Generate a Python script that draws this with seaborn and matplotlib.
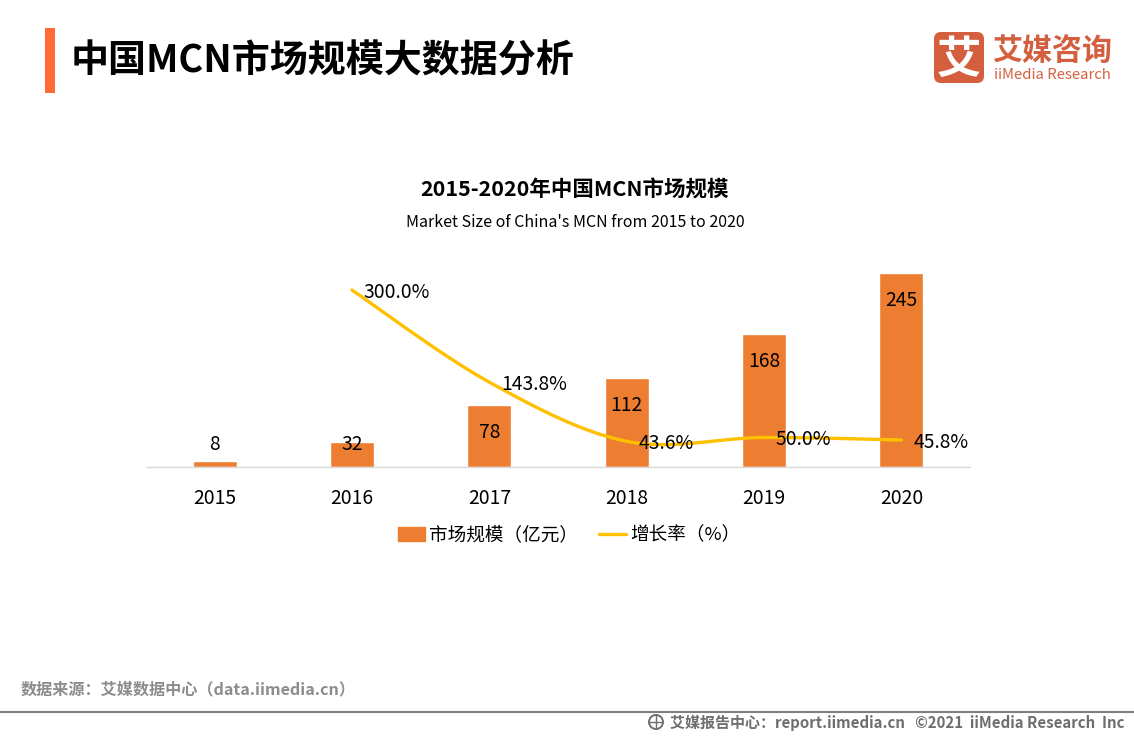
import numpy as np
import pandas as pd
import matplotlib
matplotlib.use('Agg')
import matplotlib.pyplot as plt
import seaborn as sns
from matplotlib.lines import Line2D
from matplotlib.patches import Circle, FancyBboxPatch, Patch, Rectangle

# chart data
years = ['2015', '2016', '2017', '2018', '2019', '2020']
market_size = [8, 32, 78, 112, 168, 245]
growth_years = [1, 2, 3, 4, 5]
growth_rate = [300.0, 143.8, 43.6, 50.0, 45.8]

BAR_COLOR = '#ED7D31'
LINE_COLOR = '#FFC000'
LOGO_COLOR = '#D45F3E'
GREY = '#7F7F7F'

W, H = 1134, 737


def smooth_curve(xs, ys, steps=30):
    """Same smoothing as the office chart line, drawn through the given points."""
    xs = np.asarray(xs, dtype=float)
    ys = np.asarray(ys, dtype=float)
    px = np.concatenate([[xs[0]], xs, [xs[-1]]])
    py = np.concatenate([[ys[0]], ys, [ys[-1]]])
    out_x, out_y = [], []
    for i in range(1, len(px) - 2):
        c1x, c1y = px[i] + (px[i + 1] - px[i - 1]) / 6, py[i] + (py[i + 1] - py[i - 1]) / 6
        c2x, c2y = px[i + 1] - (px[i + 2] - px[i]) / 6, py[i + 1] - (py[i + 2] - py[i]) / 6
        t = np.linspace(0, 1, steps)
        out_x.extend((1 - t) ** 3 * px[i] + 3 * (1 - t) ** 2 * t * c1x + 3 * (1 - t) * t ** 2 * c2x + t ** 3 * px[i + 1])
        out_y.extend((1 - t) ** 3 * py[i] + 3 * (1 - t) ** 2 * t * c1y + 3 * (1 - t) * t ** 2 * c2y + t ** 3 * py[i + 1])
    return np.array(out_x), np.array(out_y)


sns.set_theme(style='white')
plt.rcParams['font.family'] = ['Noto Sans CJK SC', 'DejaVu Sans']

fig = plt.figure(figsize=(W / 100, H / 100), dpi=100, facecolor='white')

# whole-figure layer in pixel coordinates for the page furniture
page = fig.add_axes([0, 0, 1, 1])
page.set_xlim(0, W)
page.set_ylim(H, 0)
page.axis('off')

page.add_patch(Rectangle((45, 28), 10, 65, color='#FF6B35', lw=0))
page.text(71, 61, '中国MCN市场规模大数据分析', fontsize=27.4, fontweight='bold', color='black', va='center')

page.text(574.5, 190, '2015-2020年中国MCN市场规模', fontsize=15.5, fontweight='bold', color='black', ha='center', va='center')
page.text(575, 222, "Market Size of China's MCN from 2015 to 2020", fontsize=11.5, color='black', ha='center', va='center')

# logo
page.add_patch(FancyBboxPatch((938, 36), 42, 43, boxstyle='round,pad=4,rounding_size=7', color=LOGO_COLOR, lw=0))
page.text(959, 60, '艾', fontsize=32, fontweight='bold', color='white', ha='center', va='center')
page.text(1052.5, 51, '艾媒咨询', fontsize=21.6, fontweight='bold', color=LOGO_COLOR, ha='center', va='center')
page.text(1052.5, 75, 'iiMedia Research', fontsize=10.7, fontweight='medium', color=LOGO_COLOR, ha='center', va='center')

# footer
page.text(21, 689, '数据来源：艾媒数据中心（data.iimedia.cn）', fontsize=11.6, fontweight='bold', color='#8C8C8C', va='center')
page.plot([0, W], [712, 712], color=GREY, lw=1.5, solid_capstyle='butt')
page.text(1124, 723, '艾媒报告中心：report.iimedia.cn   ©2021  iiMedia Research  Inc', fontsize=10.8,
          fontweight='bold', color='#6E6E6E', ha='right', va='center')
page.add_patch(Circle((656, 722), 7, fill=False, ec='#6E6E6E', lw=1.4))
page.plot([649, 663], [722, 722], color='#6E6E6E', lw=1)
page.plot([656, 656], [715, 729], color='#6E6E6E', lw=1)

# chart area, baseline at y=467
ax = fig.add_axes([146 / W, 1 - 467 / H, 824 / W, 197 / H])
ax.patch.set_alpha(0)
df = pd.DataFrame({'year': years, 'size': market_size})
sns.barplot(data=df, x='year', y='size', color=BAR_COLOR, saturation=1, width=0.32, ax=ax)
ax.set_xlim(-0.5, 5.5)
ax.set_ylim(0, 249)
ax.set_xlabel('')
ax.set_ylabel('')
ax.set_yticks([])
ax.tick_params(axis='x', length=0, pad=15, labelsize=13.9, labelcolor='black')
sns.despine(ax=ax, left=True)
ax.spines['bottom'].set_color('#D9D9D9')
ax.spines['bottom'].set_linewidth(1)

for i, v in enumerate(market_size):
    # small bars carry the label above or across the top
    if v < 20:
        off = 16
    elif v < 50:
        off = -3
    else:
        off = -27
    ax.annotate(str(v), (i, v), xytext=(0, off * 0.72), textcoords='offset points',
                ha='center', va='center', fontsize=13.9, color='black')

ax2 = ax.twinx()
ax2.patch.set_alpha(0)
curve_x, curve_y = smooth_curve(growth_years, growth_rate)
sns.lineplot(x=curve_x, y=curve_y, sort=False, color=LINE_COLOR, lw=2.4, ax=ax2, errorbar=None)
ax2.set_xlim(-0.5, 5.5)
ax2.set_ylim(0, 334)
ax2.set_yticks([])
ax2.set_ylabel('')
for side in ['top', 'left', 'right', 'bottom']:
    ax2.spines[side].set_visible(False)

for x, v in zip(growth_years, growth_rate):
    ax2.annotate(f'{v:.1f}%', (x, v), xytext=(8.5, -1.5), textcoords='offset points',
                 ha='left', va='center', fontsize=13.9, color='black')

handles = [Patch(color=BAR_COLOR, label='市场规模（亿元）'),
           Line2D([0], [0], color=LINE_COLOR, lw=2.4, label='增长率（%）')]
fig.legend(handles=handles, loc='center', bbox_to_anchor=(569 / W, 1 - 535.5 / H), ncol=2, frameon=False,
           fontsize=13.4, handlelength=1.45, handleheight=0.7, handletextpad=0.2, columnspacing=1.15,
           borderpad=0, labelcolor='black')

fig.savefig('out.png', dpi=100)
